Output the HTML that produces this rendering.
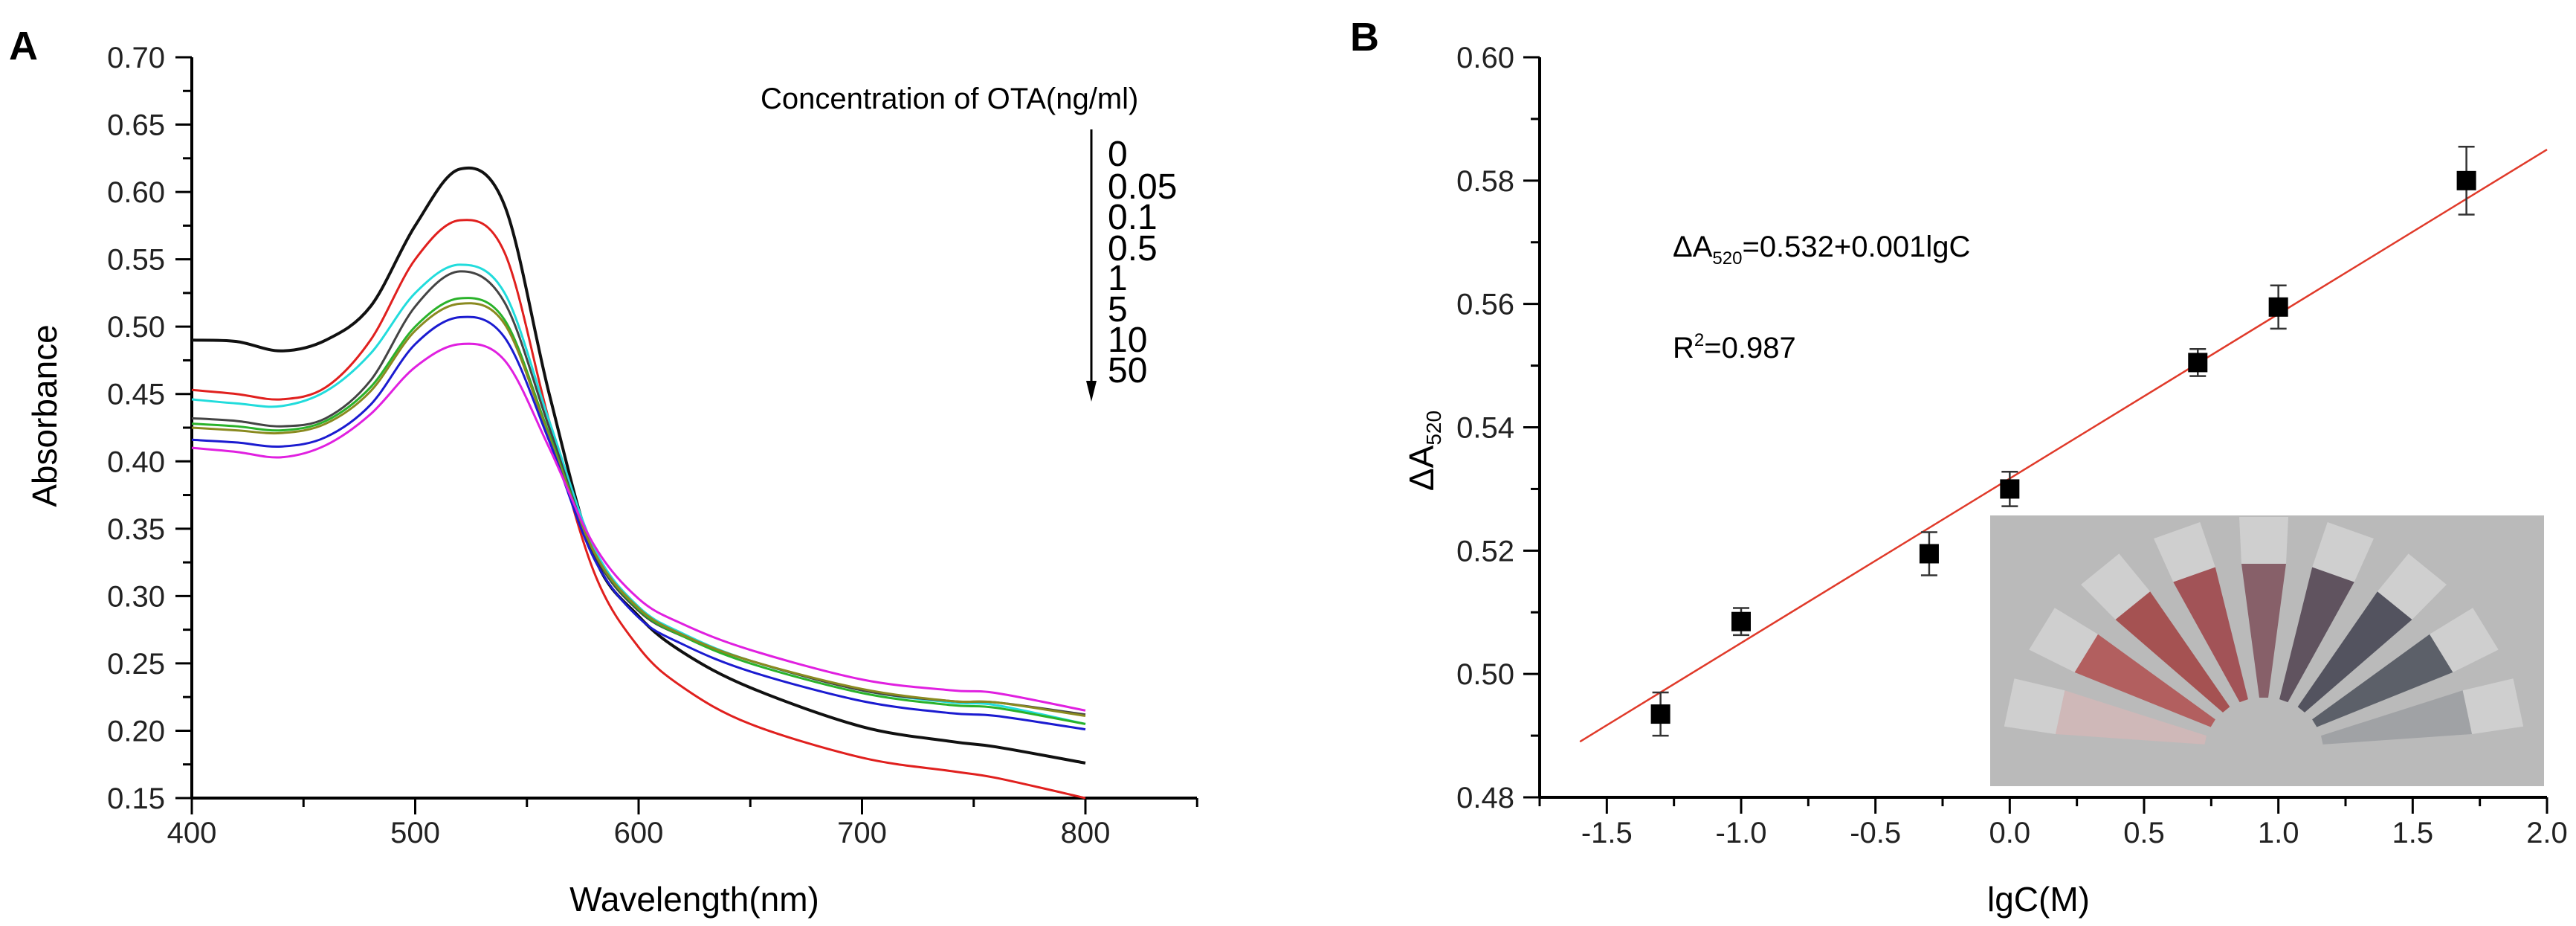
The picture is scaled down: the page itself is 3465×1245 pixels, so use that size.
<!DOCTYPE html>
<html><head><meta charset="utf-8"><style>
html,body{margin:0;padding:0;background:#fff;}
svg{display:block;font-family:"Liberation Sans",sans-serif;}
</style></head><body>
<svg id="fig" width="3465" height="1245" viewBox="0 0 3465 1245" xmlns="http://www.w3.org/2000/svg">
<text x="12" y="80" font-size="54" font-weight="bold">A</text>
<text x="1816" y="68" font-size="54" font-weight="bold">B</text>
<g id="pa"></g>
<g id="pb"></g>
</svg>
<script>
// ---- Panel A data ----
const wavelengths=[400,420,440,460,480,500,520,540,560,580,600,620,650,700,740,760,800];
const concLabels=["0","0.05","0.1","0.5","1","5","10","50"];
const sBlack0=[0.490,0.489,0.482,0.490,0.515,0.575,0.617,0.590,0.450,0.330,0.285,0.258,0.232,0.203,0.192,0.188,0.176];
const sRed=[0.453,0.450,0.446,0.455,0.490,0.550,0.579,0.555,0.430,0.318,0.262,0.232,0.205,0.180,0.170,0.165,0.150];
const sCyan=[0.446,0.443,0.441,0.452,0.480,0.525,0.546,0.525,0.430,0.336,0.292,0.272,0.252,0.230,0.221,0.219,0.205];
const sGray=[0.432,0.430,0.426,0.432,0.460,0.515,0.541,0.518,0.425,0.332,0.289,0.270,0.252,0.230,0.222,0.221,0.212];
const sGreen=[0.428,0.426,0.423,0.430,0.455,0.500,0.521,0.505,0.420,0.333,0.290,0.270,0.250,0.228,0.219,0.217,0.205];
const sOlive=[0.425,0.423,0.421,0.428,0.452,0.497,0.517,0.502,0.418,0.333,0.291,0.271,0.252,0.231,0.222,0.221,0.211];
const sBlue=[0.416,0.414,0.411,0.418,0.442,0.487,0.507,0.492,0.415,0.328,0.284,0.264,0.244,0.222,0.213,0.211,0.201];
const sMagenta=[0.410,0.407,0.403,0.412,0.435,0.470,0.487,0.475,0.410,0.338,0.298,0.279,0.260,0.238,0.230,0.228,0.215];
const seriesA=[sBlack0,sRed,sCyan,sGray,sGreen,sOlive,sBlue,sMagenta];
const colorsA=["#111","#e0201e","#22dcdc","#444","#2ab22a","#8a8a20","#1b1bd0","#e020e0"];
const yTicksA=[0.15,0.20,0.25,0.30,0.35,0.40,0.45,0.50,0.55,0.60,0.65,0.70];
const xTicksA=[400,500,600,700,800];
// ---- Panel B data ----
const lgC=[-1.3,-1.0,-0.3,0.0,0.7,1.0,1.7];
const dA=[0.4935,0.5085,0.5195,0.5300,0.5505,0.5595,0.5800];
const errB=[0.0035,0.0022,0.0035,0.0028,0.0022,0.0035,0.0055];
const fitX=[-1.6,2.0];
const fitIntercept=0.5317, fitSlope=0.02667;
const yTicksB=[0.48,0.50,0.52,0.54,0.56,0.58,0.60];
const xTicksB=[-1.5,-1.0,-0.5,0.0,0.5,1.0,1.5,2.0];

const NS="http://www.w3.org/2000/svg";
function mk(parent,tag,attrs,text){const e=document.createElementNS(NS,tag);for(const k in attrs)e.setAttribute(k,attrs[k]);if(text!==undefined)e.textContent=text;parent.appendChild(e);return e;}

// Panel A axes
const xA=v=>258+(v-400)*(1460-258)/400;
const yA=v=>1073-(v-0.15)*(1073-77)/0.55;
const pa=document.getElementById('pa');
let ax=mk(pa,'line',{x1:258,y1:77,x2:258,y2:1073,stroke:'#000','stroke-width':4});


ax=mk(pa,'line',{x1:258,y1:1073,x2:1610,y2:1073,stroke:'#000','stroke-width':4});


for(let v=0.15;v<=0.7001;v+=0.025){const major=Math.abs(v*20-Math.round(v*20))<1e-6;mk(pa,'line',{x1:258-(major?22:12),y1:yA(v),x2:258,y2:yA(v),stroke:'#000','stroke-width':3});}
for(let v=400;v<=850;v+=50){const major=v%100===0;mk(pa,'line',{x1:xA(v),y1:1073,x2:xA(v),y2:1073+(major?22:12),stroke:'#000','stroke-width':3});}
yTicksA.forEach(v=>{const t=mk(pa,'text',{x:222,y:yA(v)+14,'font-size':40,'text-anchor':'end',fill:'#222'},v.toFixed(2));

});
xTicksA.forEach(v=>{const t=mk(pa,'text',{x:xA(v),y:1133,'font-size':40,'text-anchor':'middle',fill:'#222'},String(v));

});
let lab=mk(pa,'text',{x:0,y:0,'font-size':46,'text-anchor':'middle',transform:'translate(76,559) rotate(-90)'},'Absorbance');


lab=mk(pa,'text',{x:934,y:1225,'font-size':46,'text-anchor':'middle'},'Wavelength(nm)');


function smoothPath(px,py){let d=`M${px[0]},${py[0]}`;for(let i=0;i<px.length-1;i++){const p0=i>0?i-1:i,p3=i+2<px.length?i+2:i+1;const c1x=px[i]+(px[i+1]-px[p0])/6,c1y=py[i]+(py[i+1]-py[p0])/6;const c2x=px[i+1]-(px[p3]-px[i])/6,c2y=py[i+1]-(py[p3]-py[i])/6;d+=` C${c1x},${c1y} ${c2x},${c2y} ${px[i+1]},${py[i+1]}`;}return d;}
seriesA.forEach((s,i)=>{const p=mk(pa,'path',{d:smoothPath(wavelengths.map(xA),s.map(yA)),fill:'none',stroke:colorsA[i],'stroke-width':(i===0?4:3)});

});
lab=mk(pa,'text',{x:1023,y:146,'font-size':40},'Concentration of OTA(ng/ml)');


mk(pa,'line',{x1:1468,y1:174,x2:1468,y2:515,stroke:'#000','stroke-width':3});
mk(pa,'path',{d:'M1461,512 L1475,512 L1468,540 Z',fill:'#000'});
const legY=[206,250,291,333,373,415,456,497];
concLabels.forEach((c,i)=>{const t=mk(pa,'text',{x:1490,y:legY[i]+17,'font-size':48},c);

});

// Panel B
const xB=v=>2071+(v+1.75)*(3426-2071)/3.75;
const yB=v=>1072-(v-0.48)*(1072-77)/0.12;
const pb=document.getElementById('pb');
// inset photo
const ph=mk(pb,'g',{});


mk(ph,'rect',{x:2677,y:693,width:745,height:364,fill:'#bababa'});
const tubeCols=['#d4b8b8','#b04848','#a03838','#9c3a3e','#7a4a55','#4a3a48','#3a3a48','#454a55','#9a9ca0'];
for(let i=0;i<9;i++){const a=(-78+i*19.5)*Math.PI/180;const cx=3045,cy=1010;const r1=80,r2=280;const w=30;
const ix=cx+r1*Math.sin(a),iy=cy-r1*Math.cos(a)*0.9,ox=cx+r2*Math.sin(a),oy=cy-r2*Math.cos(a)*0.9;
const nx=Math.cos(a),ny=Math.sin(a);
mk(ph,'path',{d:`M${ix-nx*6},${iy-ny*6} L${ix+nx*6},${iy+ny*6} L${ox+nx*w},${oy+ny*w} L${ox-nx*w},${oy-ny*w} Z`,fill:tubeCols[i],opacity:0.8});
mk(ph,'path',{d:`M${ox-nx*w},${oy-ny*w} L${ox+nx*w},${oy+ny*w} L${ox+nx*w*1.1+(ox-cx)*0.25},${oy+ny*w*1.1+(oy-cy)*0.25} L${ox-nx*w*1.1+(ox-cx)*0.25},${oy-ny*w*1.1+(oy-cy)*0.25} Z`,fill:'#d8d8d8',opacity:0.7});}
ax=mk(pb,'line',{x1:2071,y1:77,x2:2071,y2:1072,stroke:'#000','stroke-width':4});


ax=mk(pb,'line',{x1:2071,y1:1072,x2:3426,y2:1072,stroke:'#000','stroke-width':4});


for(let k=0;k<=12;k++){const v=0.48+k*0.01;const major=k%2===0;mk(pb,'line',{x1:2071-(major?22:12),y1:yB(v),x2:2071,y2:yB(v),stroke:'#000','stroke-width':3});}
for(let k=0;k<=15;k++){const v=-1.75+k*0.25;const major=k%2===1;mk(pb,'line',{x1:xB(v),y1:1072,x2:xB(v),y2:1072+(major?22:12),stroke:'#000','stroke-width':3});}
yTicksB.forEach(v=>{const t=mk(pb,'text',{x:2037,y:yB(v)+14,'font-size':40,'text-anchor':'end',fill:'#222'},v.toFixed(2));

});
xTicksB.forEach(v=>{const t=mk(pb,'text',{x:xB(v),y:1133,'font-size':40,'text-anchor':'middle',fill:'#222'},v.toFixed(1));

});
lab=mk(pb,'text',{x:0,y:0,'font-size':46,'text-anchor':'middle',transform:'translate(1928,606) rotate(-90)'});
mk(lab,'tspan',{},'ΔA');mk(lab,'tspan',{'font-size':28,dy:10},'520');


lab=mk(pb,'text',{x:2742,y:1225,'font-size':46,'text-anchor':'middle'},'lgC(M)');


const fl=mk(pb,'line',{x1:xB(fitX[0]),y1:yB(fitIntercept+fitSlope*fitX[0]),x2:xB(fitX[1]),y2:yB(fitIntercept+fitSlope*fitX[1]),stroke:'#e03a2a','stroke-width':2.5});


lgC.forEach((x,i)=>{const cx=xB(x),cy=yB(dA[i]),t=yB(dA[i]+errB[i]),b=yB(dA[i]-errB[i]);
const g=mk(pb,'g',{});


mk(g,'line',{x1:cx,y1:t,x2:cx,y2:b,stroke:'#333','stroke-width':2.5});
mk(g,'line',{x1:cx-11,y1:t,x2:cx+11,y2:t,stroke:'#333','stroke-width':2.5});
mk(g,'line',{x1:cx-11,y1:b,x2:cx+11,y2:b,stroke:'#333','stroke-width':2.5});
mk(g,'rect',{x:cx-13,y:cy-13,width:26,height:26,fill:'#000'});});
lab=mk(pb,'text',{x:2250,y:345,'font-size':40});
mk(lab,'tspan',{},'ΔA');mk(lab,'tspan',{'font-size':24,dy:10},'520');mk(lab,'tspan',{dy:-10},'=0.532+0.001lgC');


lab=mk(pb,'text',{x:2250,y:481,'font-size':40});
mk(lab,'tspan',{},'R');mk(lab,'tspan',{'font-size':24,dy:-16},'2');mk(lab,'tspan',{dy:16},'=0.987');


</script>
</body></html>
